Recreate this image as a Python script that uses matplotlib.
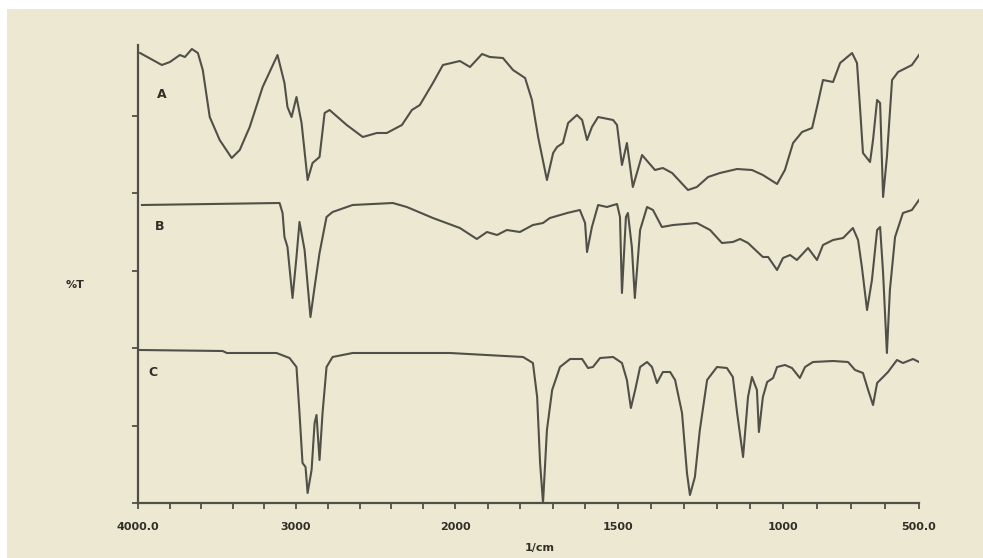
import matplotlib
matplotlib.use("Agg")
import matplotlib.pyplot as plt
from matplotlib.patches import Rectangle
import numpy as np

# x axis of the chart is not linear: wavenumber anchors and where they sit
scale_wn = [500, 1000, 1500, 2000, 3000, 4000]
scale_pos = [919, 783, 618, 455, 296, 138]

# spectrum A (wavenumber 1/cm, %T height)
a_wn = [3987, 3849, 3798, 3735, 3703, 3659, 3621, 3590, 3546, 3483, 3407, 3356, 3293, 3211,
        3117, 3073, 3054, 3028, 2997, 2965, 2927, 2896, 2852, 2820, 2789, 2681, 2580, 2492,
        2429, 2334, 2271, 2221, 2139, 2076, 1985, 1954, 1917, 1893, 1853, 1822, 1785, 1764,
        1745, 1718, 1699, 1687, 1669, 1653, 1626, 1610, 1595, 1580, 1561, 1515, 1503, 1488,
        1473, 1455, 1427, 1409, 1388, 1364, 1336, 1288, 1261, 1227, 1191, 1139, 1094, 1061,
        1018, 993, 963, 930, 893, 875, 853, 816, 790, 746, 728, 717, 706, 680, 669, 654, 643,
        632, 618, 599, 577, 526, 500]
a_t = [450, 438, 441, 448, 446, 454, 450, 433, 386, 363, 345, 353, 376, 416,
       448, 420, 396, 386, 406, 380, 323, 340, 346, 390, 393, 378, 366, 370,
       370, 378, 393, 398, 420, 438, 442, 436, 449, 446, 445, 433, 425, 403,
       366, 323, 350, 356, 360, 380, 388, 383, 363, 376, 386, 383, 378, 338,
       360, 316, 348, 341, 333, 335, 330, 313, 316, 326, 330, 334, 333, 328,
       319, 333, 360, 371, 375, 396, 423, 421, 440, 450, 440, 396, 350, 341, 363, 403, 400,
       306, 346, 423, 431, 438, 448]

# spectrum B
b_wn = [3975, 3104, 3085, 3073, 3054, 3022, 2997, 2978, 2946, 2909, 2883, 2852, 2808, 2770,
        2644, 2391, 2303, 2139, 1985, 1933, 1902, 1871, 1841, 1801, 1761, 1730, 1709, 1656,
        1617, 1601, 1595, 1580, 1561, 1534, 1503, 1494, 1488, 1476, 1470, 1458, 1449, 1433,
        1412, 1394, 1367, 1333, 1261, 1221, 1185, 1152, 1130, 1106, 1061, 1045, 1018, 1000,
        974, 949, 908, 875, 853, 816, 779, 743, 724, 710, 691, 673, 654, 643, 632, 618, 607,
        588, 559, 526, 500]
b_t = [298, 300, 290, 266, 256, 205, 246, 281, 253, 186, 216, 250, 286, 291,
       298, 300, 296, 285, 275, 264, 271, 268, 273, 271, 278, 280, 285, 290,
       293, 280, 251, 276, 298, 296, 299, 286, 210, 286, 290, 256, 205, 273,
       296, 293, 276, 278, 280, 273, 260, 261, 264, 260, 246, 246, 233, 245,
       248, 243, 255, 243, 258, 263, 265, 275, 263, 236, 193, 223, 273, 276, 230, 150, 213,
       266, 290, 293, 303]

# spectrum C
c_wn = [3987, 3464, 3438, 3123, 3041, 2997, 2978, 2959, 2940, 2927, 2902, 2883, 2871, 2852,
        2833, 2808, 2770, 2644, 2032, 1791, 1761, 1748, 1739, 1730, 1718, 1702, 1678, 1647,
        1610, 1592, 1577, 1555, 1515, 1488, 1473, 1461, 1448, 1433, 1412, 1397, 1382, 1364,
        1342, 1327, 1306, 1291, 1282, 1267, 1252, 1230, 1200, 1170, 1152, 1139, 1121, 1106,
        1094, 1079, 1073, 1061, 1048, 1030, 1018, 993, 967, 938, 919, 890, 816, 761, 735,
        706, 687, 669, 654, 632, 614, 581, 559, 522, 500]
c_t = [153, 152, 150, 150, 145, 136, 90, 40, 36, 10, 33, 80, 88, 43,
       90, 136, 146, 150, 150, 146, 140, 106, 40, 0, 73, 113, 136, 144,
       144, 135, 136, 145, 146, 140, 123, 95, 113, 136, 141, 136, 120, 131,
       131, 123, 90, 30, 8, 26, 73, 123, 136, 135, 126, 90, 46, 106,
       126, 113, 71, 106, 121, 125, 136, 138, 135, 125, 136, 141, 142, 141, 133,
       130, 113, 98, 120, 126, 131, 143, 140, 144, 141]

major_ticks = [4000, 3000, 2000, 1500, 1000, 500]
major_labels = ["4000.0", "3000", "2000", "1500", "1000", "500.0"]
minor_ticks = [3800, 3600, 3400, 3200, 2800, 2600, 2400, 2200,
               1900, 1800, 1700, 1600, 1400, 1300, 1200, 1100, 875, 750, 625]
y_ticks = [0, 77.5, 155, 232.5, 310, 387.5]


def forward(w):
    return np.interp(w, scale_wn, scale_pos)


def inverse(p):
    return np.interp(p, scale_pos[::-1], scale_wn[::-1])


paper = "#ECE8D2"
ink = "#505048"

fig = plt.figure(figsize=(9.83, 5.58), dpi=100, facecolor=paper)
# white strips at the photo edges
fig.patches.append(Rectangle((0, 1 - 9 / 558), 1, 9 / 558, transform=fig.transFigure,
                             facecolor="white", edgecolor="none", zorder=0))
fig.patches.append(Rectangle((0, 0), 7 / 983, 1, transform=fig.transFigure,
                             facecolor="white", edgecolor="none", zorder=0))

ax = fig.add_axes([138 / 983, 55 / 558, (919 - 138) / 983, 458 / 558], facecolor="none")
ax.set_xscale("function", functions=(forward, inverse))

ax.plot(a_wn, a_t, color=ink, lw=1.5)
ax.plot(b_wn, b_t, color=ink, lw=1.5)
ax.plot(c_wn, c_t, color=ink, lw=1.5)

# forward() already runs high wavenumbers to the left
ax.set_xlim(500, 4000)
ax.set_ylim(0, 458)

for s in ["top", "right"]:
    ax.spines[s].set_visible(False)
for s in ["left", "bottom"]:
    ax.spines[s].set_color(ink)
    ax.spines[s].set_linewidth(1.6)

ax.set_xticks(major_ticks)
ax.set_xticklabels(major_labels, fontsize=8, fontweight="bold", color="#303028")
ax.set_xticks(minor_ticks, minor=True)
ax.set_yticks(y_ticks)
ax.set_yticklabels([])
ax.tick_params(axis="both", which="both", direction="out", length=4, width=1.3,
               color=ink, pad=10)

ax.text(3849, 408, "A", fontsize=9, fontweight="bold", color="#303028", ha="center", va="center")
ax.text(3861, 277, "B", fontsize=9, fontweight="bold", color="#303028", ha="center", va="center")
ax.text(3905, 131, "C", fontsize=9, fontweight="bold", color="#303028", ha="center", va="center")

fig.text(75 / 983, 1 - 285 / 558, "%T", fontsize=8, fontweight="bold", color="#303028",
         ha="center", va="center")
fig.text(540 / 983, 1 - 548 / 558, "1/cm", fontsize=8, fontweight="bold", color="#303028",
         ha="center", va="center")

fig.savefig("out.png", dpi=100, facecolor=fig.get_facecolor())
